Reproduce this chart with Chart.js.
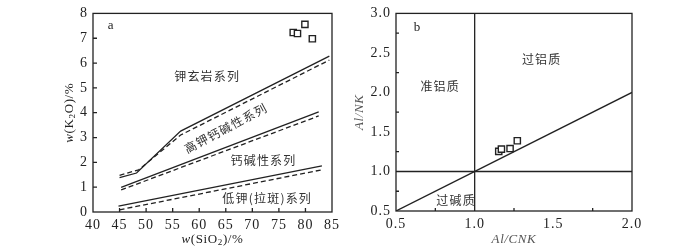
<!DOCTYPE html>
<html>
<head>
<meta charset="utf-8">
<script src="https://cdn.jsdelivr.net/npm/chart.js@4/dist/chart.umd.min.js"></script>
<style>
  body { margin: 0; background: #fff; }
  #wrap { position: relative; width: 700px; height: 250px; }
  canvas { position: absolute; top: 0; }
</style>
</head>
<body>
<div id="wrap">
  <canvas id="chartA" width="350" height="250" style="left:0"></canvas>
  <canvas id="chartB" width="350" height="250" style="left:350px"></canvas>
</div>
<script>
// ---- panel a : K2O vs SiO2 ----
const siO2Ticks = [40, 45, 50, 55, 60, 65, 70, 75, 80, 85];
const k2oTicks = [0, 1, 2, 3, 4, 5, 6, 7, 8];

const shoSolidX = [45, 48.2, 56.5, 84.5];
const shoSolidY = [1.38, 1.57, 3.26, 6.28];
const shoDashX = [45, 48.6, 56.5, 84.5];
const shoDashY = [1.48, 1.70, 3.10, 6.12];

const highKSolidX = [45.3, 82.5];
const highKSolidY = [0.99, 4.03];
const highKDashX = [45.3, 82.5];
const highKDashY = [0.89, 3.87];

const lowKSolidX = [44.8, 83.1];
const lowKSolidY = [0.24, 1.86];
const lowKDashX = [45, 83.1];
const lowKDashY = [0.09, 1.70];

const sampleSiO2 = [77.7, 78.5, 79.9, 81.3];
const sampleK2O = [7.23, 7.19, 7.56, 6.98];

// ---- panel b : A/NK vs A/CNK ----
const acnkTicks = [0.5, 1.0, 1.5, 2.0];
const ankTicks = [0.5, 1.0, 1.5, 2.0, 2.5, 3.0];
const acnkMinor = [0.75, 1.25, 1.75];
const ankMinor = [0.75, 1.25, 1.75, 2.25, 2.75];

const sampleACNK = [1.153, 1.17, 1.225, 1.271];
const sampleANK = [1.255, 1.283, 1.29, 1.389];

const pts = (xs, ys) => xs.map((x, i) => ({ x: x, y: ys[i] }));

const INK = '#222';
const serif = '"Liberation Serif", "Times New Roman", serif';
const cjk = '"Noto Sans CJK SC", sans-serif';

const lineSet = (xs, ys, dashed) => ({
  data: pts(xs, ys),
  showLine: true,
  borderColor: INK,
  borderWidth: 1.3,
  borderDash: dashed ? [5, 3] : [],
  pointRadius: 0,
  fill: false
});

const sampleSet = (xs, ys) => ({
  data: pts(xs, ys),
  showLine: false,
  pointStyle: 'rect',
  pointRadius: 4.4,
  pointBorderWidth: 1.4,
  pointBackgroundColor: '#fff',
  pointBorderColor: INK
});

// text with italic / subscript pieces
function drawRich(ctx, parts, cx, cy, angle, size, color) {
  ctx.save();
  ctx.translate(cx, cy);
  ctx.rotate(angle);
  ctx.textAlign = 'left';
  ctx.textBaseline = 'middle';
  ctx.fillStyle = color;
  let total = 0;
  const w = parts.map(p => {
    ctx.font = (p.it ? 'italic ' : '') + (p.sub ? size * 0.7 : size) + 'px ' + serif;
    const m = ctx.measureText(p.t).width;
    total += m;
    return m;
  });
  let x = -total / 2;
  parts.forEach((p, i) => {
    ctx.font = (p.it ? 'italic ' : '') + (p.sub ? size * 0.7 : size) + 'px ' + serif;
    ctx.fillText(p.t, x, p.sub ? 3 : 0);
    x += w[i];
  });
  ctx.restore();
}

const framePlugin = {
  id: 'frame',
  beforeDraw(chart) {
    chart.ctx.letterSpacing = '1px';
  },
  afterDraw(chart, args, o) {
    const { ctx, chartArea: a, scales } = chart;
    const sx = scales.x, sy = scales.y;
    ctx.save();
    ctx.letterSpacing = '0px';
    ctx.strokeStyle = INK;
    ctx.lineWidth = 1.3;
    ctx.strokeRect(a.left, a.top, a.width, a.height);
    ctx.beginPath();
    o.xMarks.forEach(v => {
      const px = sx.getPixelForValue(v);
      ctx.moveTo(px, a.bottom);
      ctx.lineTo(px, a.bottom - o.tick);
    });
    o.yMarks.forEach(v => {
      const py = sy.getPixelForValue(v);
      ctx.moveTo(a.left, py);
      ctx.lineTo(a.left + o.tick, py);
    });
    ctx.stroke();

    // panel letter
    ctx.fillStyle = INK;
    ctx.font = '13px ' + serif;
    ctx.textAlign = 'center';
    ctx.textBaseline = 'middle';
    ctx.fillText(o.letter.t, sx.getPixelForValue(o.letter.x), sy.getPixelForValue(o.letter.y));

    // field names
    ctx.font = '12px ' + cjk;
    ctx.letterSpacing = '1.2px';
    ctx.fillStyle = '#333';
    o.notes.forEach(n => {
      ctx.save();
      ctx.translate(sx.getPixelForValue(n.x), sy.getPixelForValue(n.y));
      ctx.rotate((n.rot || 0) * Math.PI / 180);
      ctx.fillText(n.t, 0, 0);
      ctx.restore();
    });
    ctx.letterSpacing = '0.6px';
    drawRich(ctx, o.xTitle, (a.left + a.right) / 2, o.xTitleY, 0, 13, o.titleColor);
    drawRich(ctx, o.yTitle, o.yTitleX, (a.top + a.bottom) / 2, -Math.PI / 2, 13, o.titleColor);
    ctx.restore();
  }
};

function axis(min, max, ticks, fmt, size, pad) {
  return {
    type: 'linear',
    min: min,
    max: max,
    afterBuildTicks: s => { s.ticks = ticks.map(v => ({ value: v })); },
    afterFit: s => { s[s.isHorizontal() ? 'height' : 'width'] = size; },
    grid: { display: false, drawTicks: false },
    border: { display: false },
    ticks: {
      padding: pad,
      color: INK,
      font: { family: serif, size: 14 },
      callback: fmt
    }
  };
}

function baseOptions(pad, xAxis, yAxis, frame) {
  return {
    responsive: false,
    animation: false,
    devicePixelRatio: 1,
    layout: { padding: pad },
    plugins: { legend: { display: false }, tooltip: { enabled: false }, frame: frame },
    scales: { x: xAxis, y: yAxis }
  };
}

new Chart(document.getElementById('chartA'), {
  type: 'scatter',
  data: {
    datasets: [
      lineSet(shoSolidX, shoSolidY, false),
      lineSet(shoDashX, shoDashY, true),
      lineSet(highKSolidX, highKSolidY, false),
      lineSet(highKDashX, highKDashY, true),
      lineSet(lowKSolidX, lowKSolidY, false),
      lineSet(lowKDashX, lowKDashY, true),
      sampleSet(sampleSiO2, sampleK2O)
    ]
  },
  options: baseOptions(
    { left: 0, top: 5, right: 18, bottom: 0 },
    axis(40, 85, siO2Ticks, v => String(v), 38, 5),
    axis(0, 8, k2oTicks, v => String(v), 93, 5),
    {
      tick: 4,
      xMarks: [45, 50, 55, 60, 65, 70, 75, 80],
      yMarks: [1, 2, 3, 4, 5, 6, 7],
      letter: { t: 'a', x: 43.3, y: 7.52 },
      notes: [
        { t: '钾玄岩系列', x: 61.5, y: 5.45 },
        { t: '高钾钙碱性系列', x: 65.0, y: 3.38, rot: -28 },
        { t: '钙碱性系列', x: 72.1, y: 2.09 },
        { t: '低钾(拉斑)系列', x: 72.8, y: 0.54 }
      ],
      xTitle: [{ t: 'w', it: true }, { t: '(SiO' }, { t: '2', sub: true }, { t: ')/%' }],
      yTitle: [{ t: 'w', it: true }, { t: '(K' }, { t: '2', sub: true }, { t: 'O)/%' }],
      xTitleY: 240,
      yTitleX: 70,
      titleColor: INK
    }
  ),
  plugins: [framePlugin]
});

new Chart(document.getElementById('chartB'), {
  type: 'scatter',
  data: {
    datasets: [
      lineSet([1, 1], [0.5, 3], false),
      lineSet([0.5, 2], [1, 1], false),
      lineSet([0.5, 2], [0.5, 2], false),
      sampleSet(sampleACNK, sampleANK)
    ]
  },
  options: baseOptions(
    { left: 0, top: 5, right: 68, bottom: 0 },
    axis(0.5, 2.0, acnkTicks, v => v.toFixed(1), 39, 5),
    axis(0.5, 3.0, ankTicks, v => v.toFixed(1), 46, 5),
    {
      tick: 3,
      xMarks: acnkMinor,
      yMarks: ankMinor,
      letter: { t: 'b', x: 0.633, y: 2.82 },
      notes: [
        { t: '过铝质', x: 1.426, y: 2.415 },
        { t: '准铝质', x: 0.781, y: 2.07 },
        { t: '过碱质', x: 0.882, y: 0.637 }
      ],
      xTitle: [{ t: 'Al/CNK', it: true }],
      yTitle: [{ t: 'Al/NK', it: true }],
      xTitleY: 240,
      yTitleX: 10,
      titleColor: '#555'
    }
  ),
  plugins: [framePlugin]
});
</script>
</body>
</html>
